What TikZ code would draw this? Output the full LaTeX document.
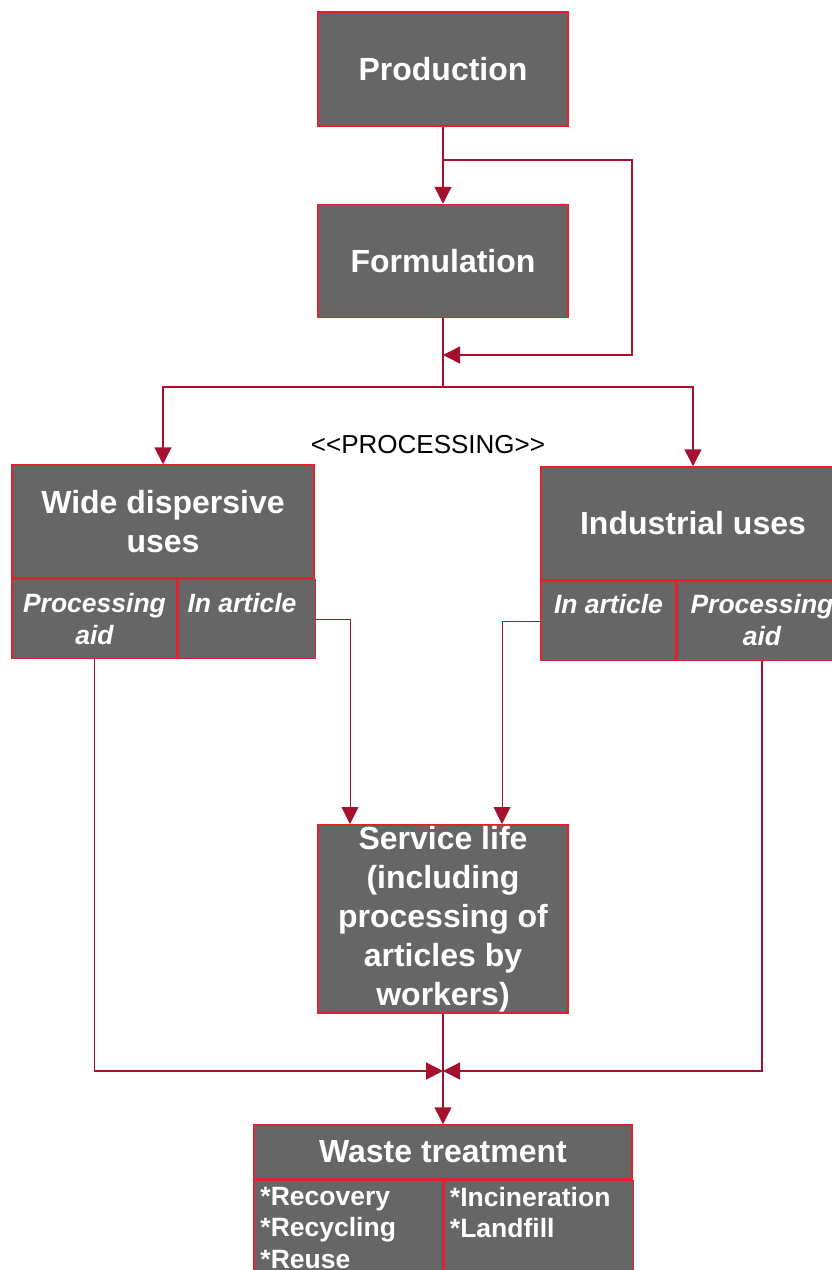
\documentclass[tikz,border=0pt]{standalone}
\usepackage{fontspec}
\setmainfont{Liberation Sans}
\usepackage{tikz}
\usetikzlibrary{positioning}
\usetikzlibrary{arrows.meta}
\definecolor{boxgray}{HTML}{666666}
\definecolor{boxred}{HTML}{E3202E}
\definecolor{linered}{HTML}{A6102F}
\tikzstyle{block} = [draw=boxred, fill=boxgray, line width=1.5pt, text=white, align=center, inner sep=0pt, font=\bfseries\fontsize{32}{38.5}\selectfont]
\tikzstyle{cell} = [draw=boxred, fill=boxgray, line width=1.5pt, anchor=north west, inner sep=0pt]
\tikzstyle{celltext} = [text=white, align=center, inner sep=0pt, font=\bfseries\itshape\fontsize{26.5}{32}\selectfont]
\tikzstyle{listtext} = [text=white, align=left, inner sep=0pt, font=\bfseries\fontsize{26.5}{31.5}\selectfont]
\tikzstyle{coord} = [coordinate]
\tikzstyle{flow} = [draw=linered, line width=1.5pt, -{Triangle[length=17pt,width=17pt]}]
\tikzstyle{thinflow} = [flow, line width=0.9pt]

\begin{document}
\begin{tikzpicture}[x=1pt,y=-1pt]
    \useasboundingbox (0,0) rectangle (832,1270);
    \node [block, minimum width=250pt, minimum height=114pt] (prod) at (443,69) {Production};
    \node [block, minimum width=250pt, minimum height=113pt, below=77pt of prod] (form) {Formulation};

    % wide dispersive uses
    \node [block, minimum width=302pt, minimum height=113pt] (wide) at (163,521.5) {Wide dispersive\\uses};
    \node [cell, minimum width=165pt, minimum height=79pt] (wpa) at (wide.south west) {};
    \node [cell, minimum width=137pt, minimum height=79pt] (wia) at (wpa.north east) {};
    \node [celltext, below=14pt of wpa.north] (wpatext) {Processing\\aid};
    \node [celltext, below=14pt of wia.north, xshift=-5pt] (wiatext) {In article};

    % industrial uses
    \node [block, minimum width=304pt, minimum height=113pt] (ind) at (693,523.5) {Industrial uses};
    \node [cell, minimum width=135pt, minimum height=79pt] (iia) at (ind.south west) {};
    \node [cell, minimum width=169pt, minimum height=79pt] (ipa) at (iia.north east) {};
    \node [celltext, below=13pt of iia.north] (iiatext) {In article};
    \node [celltext, below=13pt of ipa.north] (ipatext) {Processing\\aid};

    \node [font=\fontsize{26}{30}\selectfont] (proc) at (428,445) {<\kern0pt<PROCESSING>\kern0pt>};

    \node [block, minimum width=250pt, minimum height=188pt, font=\bfseries\fontsize{32}{39}\selectfont] (serv) at (443,919)
        {Service life\\(including\\processing of\\articles by\\workers)};

    % waste treatment
    \node [block, minimum width=378pt, minimum height=54pt] (waste) at (443,1152) {Waste treatment};
    \node [cell, minimum width=189pt, minimum height=115pt] (wrec) at (waste.south west) {};
    \node [cell, minimum width=189pt, minimum height=115pt] (winc) at (wrec.north east) {};
    \node [listtext, anchor=north west] (wrectext) at ([xshift=7pt,yshift=-7pt]wrec.north west) {*Recovery\\*Recycling\\*Reuse};
    \node [listtext, anchor=north west] (winctext) at ([xshift=6pt,yshift=-7pt]winc.north west) {*Incineration\\*Landfill};

    \node [coord] (tap) at (443,160) {};
    \node [coord] (loop) at (632,160) {};
    \node [coord] (merge) at (443,355) {};
    \node [coord] (split) at (443,387) {};
    \node [coord] (inl) at (350,824) {};
    \node [coord] (inr) at (502,824) {};
    \node [coord] (meet) at (443,1071) {};

    \draw [flow] (prod) -- (form);
    \draw [flow] (tap) -- (loop) |- (merge);
    \draw [flow, -] (form) -- (split);
    \draw [flow] (split) -| (wide.north);
    \draw [flow] (split) -| (ind.north);
    \draw [thinflow] (wia.east) -| (inl);
    \draw [thinflow] (iia.west) -| (inr);
    \draw [flow] (wpa.south) |- (meet);
    \draw [flow] (ipa.south) |- (meet);
    \draw [flow] (serv) -- (waste);
\end{tikzpicture}
\end{document}
